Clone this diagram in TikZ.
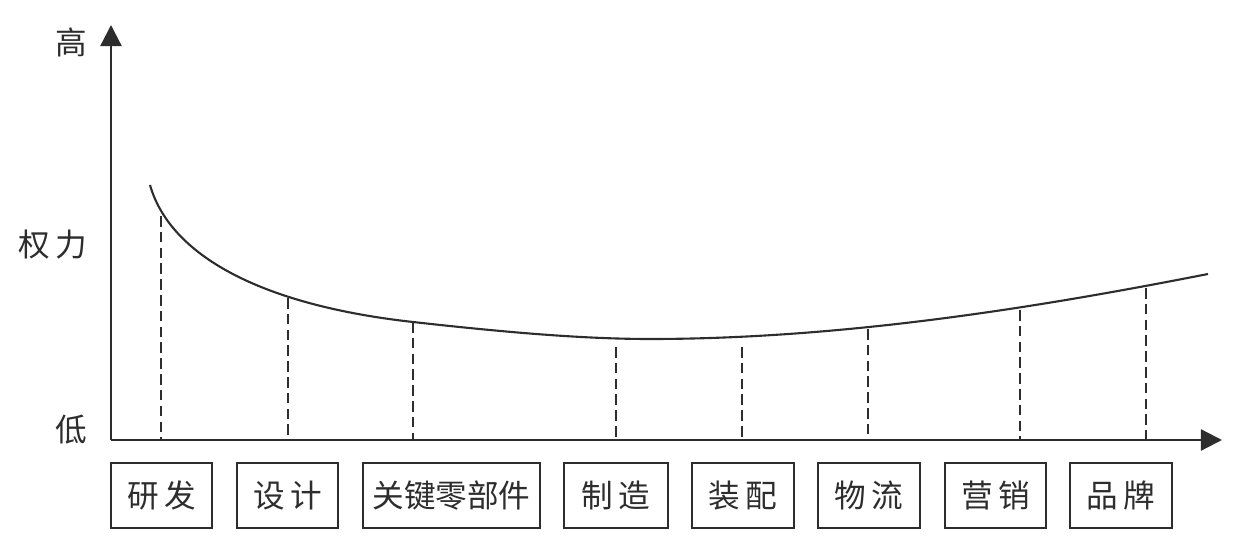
\documentclass[tikz,border=0pt]{standalone}
\usepackage{fontspec}
\newfontfamily\cjk{Noto Sans CJK SC}
\usepackage{tikz}
\usetikzlibrary{arrows.meta}
\definecolor{inkgray}{RGB}{45,45,45}

\begin{document}
\begin{tikzpicture}[
  x=0.02cm, y=-0.02cm,
  stage/.style={rectangle, draw=inkgray, line width=1.1pt, minimum width=#1, minimum height=1.3cm, inner sep=0pt, font=\cjk\fontsize{18}{20}\selectfont, text=inkgray},
  stage/.default=2.04cm,
  level/.style={font=\cjk\fontsize{18}{20}\selectfont, text=inkgray},
  axis/.style={-{Triangle[length=12pt,width=12pt]}, line width=1.3pt, inkgray},
  curve/.style={line width=1.2pt, inkgray},
  guide/.style={dash pattern=on 6pt off 3pt, line width=1.3pt, inkgray}
]
\useasboundingbox (0,0) rectangle (1242,547);

% axes
\coordinate (o) at (111,440);
\coordinate (ytop) at (111,25);
\coordinate (xend) at (1222,440);
\draw[axis] (o) -- (ytop);
\draw[axis] (o) -- (xend);

\node[level] (high) at (71,42) {高};
\node[level] (power) at (53,245) {权\,力};
\node[level] (low) at (71,430) {低};

% smile curve
\draw[curve] (150,185) .. controls (170,255) and (260,305) .. (413,322)
  .. controls (500,331.7) and (580,339) .. (650,339)
  .. controls (850,339) and (1050,305) .. (1208,274);

\coordinate (p1) at (161,216);
\coordinate (p2) at (288,298);
\coordinate (p3) at (413,322);
\coordinate (p4) at (616,347);
\coordinate (p5) at (742,347);
\coordinate (p6) at (868,329);
\coordinate (p7) at (1020,310);
\coordinate (p8) at (1146,288);

\draw[guide] (p1) -- (p1 |- o);
\draw[guide] (p2) -- (p2 |- o);
\draw[guide] (p3) -- (p3 |- o);
\draw[guide] (p4) -- (p4 |- o);
\draw[guide] (p5) -- (p5 |- o);
\draw[guide] (p6) -- (p6 |- o);
\draw[guide] (p7) -- (p7 |- o);
\draw[guide] (p8) -- (p8 |- o);

% value chain stages
\node[stage=2.02cm] (rd) at (161.5,495.5) {研\,发};
\node[stage=2.02cm] (design) at (287.5,495.5) {设\,计};
\node[stage=3.54cm] (parts) at (451.5,495.5) {关键零部件};
\node[stage=2.08cm] (making) at (616,495.5) {制\,造};
\node[stage] (assembly) at (743,495.5) {装\,配};
\node[stage] (logistics) at (869,495.5) {物\,流};
\node[stage=2.02cm] (marketing) at (995.5,495.5) {营\,销};
\node[stage] (brand) at (1121,495.5) {品\,牌};
\end{tikzpicture}
\end{document}
